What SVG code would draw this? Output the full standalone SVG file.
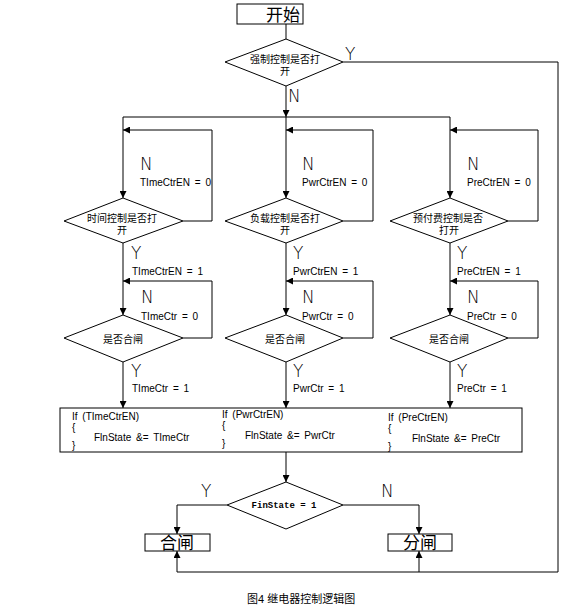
<svg xmlns="http://www.w3.org/2000/svg" width="565" height="608" viewBox="0 0 565 608">
<style>
.s{fill:none;stroke:#000;stroke-width:1}
.b{fill:#fff;stroke:#000;stroke-width:1}
.t{font-family:"Liberation Sans","Noto Sans",sans-serif;font-size:10px;fill:#000;word-spacing:2px}
.c{font-family:"Liberation Sans","Noto Sans CJK SC",sans-serif;font-size:10px;fill:#000;text-anchor:middle}
.yn{font-family:"DejaVu Sans ExtraLight","DejaVu Sans","Liberation Sans",sans-serif;font-size:17px;fill:#000;font-weight:200}
.big{font-family:"Noto Sans CJK SC",sans-serif;font-size:17px;fill:#000;text-anchor:middle}
</style>
<defs>
<marker id="a" viewBox="0 0 8 8" refX="8" refY="4" markerWidth="7" markerHeight="7" markerUnits="userSpaceOnUse" orient="auto">
<path d="M0,0 L8,4 L0,8 z" fill="#000"/>
</marker>
</defs>
<rect width="565" height="608" fill="#fff"/>
<g id="connectors">
<path class="s" d="M286,24 V39"/>
<path class="s" d="M343,62 H558 V572 H177"/>
<path class="s" d="M177,572 V551" marker-end="url(#a)"/>
<path class="s" d="M419,572 V551" marker-end="url(#a)"/>
<path class="s" d="M286,86 V117" marker-end="url(#a)"/>
<path class="s" d="M123,117 H450"/>
<path class="s" d="M123,117 V198" marker-end="url(#a)"/>
<path class="s" d="M286,117 V198" marker-end="url(#a)"/>
<path class="s" d="M450,117 V198" marker-end="url(#a)"/>
<path class="s" d="M183,221 H212 V130 H123" marker-end="url(#a)"/>
<path class="s" d="M343,221 H373 V130 H286" marker-end="url(#a)"/>
<path class="s" d="M508,221 H538 V130 H450" marker-end="url(#a)"/>
<path class="s" d="M123,243 V315" marker-end="url(#a)"/>
<path class="s" d="M286,243 V315" marker-end="url(#a)"/>
<path class="s" d="M450,243 V315" marker-end="url(#a)"/>
<path class="s" d="M183,338 H212 V281 H123" marker-end="url(#a)"/>
<path class="s" d="M343,338 H373 V281 H286" marker-end="url(#a)"/>
<path class="s" d="M508,338 H538 V281 H450" marker-end="url(#a)"/>
<path class="s" d="M123,362 V408" marker-end="url(#a)"/>
<path class="s" d="M286,362 V408" marker-end="url(#a)"/>
<path class="s" d="M450,362 V408" marker-end="url(#a)"/>
<path class="s" d="M286,452 V482" marker-end="url(#a)"/>
<path class="s" d="M227,505 H177 V534" marker-end="url(#a)"/>
<path class="s" d="M343,505 H419 V534" marker-end="url(#a)"/>
</g>
<g id="start">
<rect class="b" x="237" y="4" width="66" height="20"/>
<text class="big" x="283" y="21" font-size="18">开始</text>
</g>
<g id="d-force">
<polygon class="b" points="286,39 343,62 286,86 225,62"/>
<text class="c" x="285" y="63">强制控制是否打</text>
<text class="c" x="285" y="75">开</text>
<text class="yn" x="345" y="60">Y</text>
<text class="yn" x="288" y="102">N</text>
</g>
<g id="d-time">
<polygon class="b" points="123,198 183,221 123,243 64,221"/>
<text class="c" x="122" y="222">时间控制是否打</text>
<text class="c" x="122" y="234">开</text>
<text class="yn" x="140" y="170">N</text>
<text class="t" x="140" y="186">TImeCtrEN = 0</text>
<text class="yn" x="131" y="259">Y</text>
<text class="t" x="132" y="275">TImeCtrEN = 1</text>
</g>
<g id="d-load">
<polygon class="b" points="286,198 343,221 286,243 225,221"/>
<text class="c" x="285" y="222">负载控制是否打</text>
<text class="c" x="285" y="234">开</text>
<text class="yn" x="302" y="170">N</text>
<text class="t" x="302" y="186">PwrCtrEN = 0</text>
<text class="yn" x="293" y="259">Y</text>
<text class="t" x="293" y="275">PwrCtrEN = 1</text>
</g>
<g id="d-pre">
<polygon class="b" points="450,198 508,221 450,243 390,221"/>
<text class="c" x="448" y="222">预付费控制是否</text>
<text class="c" x="449" y="234">打开</text>
<text class="yn" x="467" y="170">N</text>
<text class="t" x="467" y="186">PreCtrEN = 0</text>
<text class="yn" x="457" y="259">Y</text>
<text class="t" x="457" y="275">PreCtrEN = 1</text>
</g>
<g id="d-time2">
<polygon class="b" points="123,315 183,338 123,362 64,338"/>
<text class="c" x="123" y="343">是否合闸</text>
<text class="yn" x="141" y="303">N</text>
<text class="t" x="141" y="320">TImeCtr = 0</text>
<text class="yn" x="131" y="377">Y</text>
<text class="t" x="132" y="392">TImeCtr = 1</text>
</g>
<g id="d-load2">
<polygon class="b" points="286,315 343,338 286,362 225,338"/>
<text class="c" x="285" y="343">是否合闸</text>
<text class="yn" x="302" y="303">N</text>
<text class="t" x="302" y="320">PwrCtr = 0</text>
<text class="yn" x="293" y="377">Y</text>
<text class="t" x="293" y="392">PwrCtr = 1</text>
</g>
<g id="d-pre2">
<polygon class="b" points="450,315 508,338 450,362 390,338"/>
<text class="c" x="449" y="343">是否合闸</text>
<text class="yn" x="467" y="303">N</text>
<text class="t" x="467" y="320">PreCtr = 0</text>
<text class="yn" x="457" y="377">Y</text>
<text class="t" x="457" y="392">PreCtr = 1</text>
</g>
<g id="code">
<rect class="b" x="60" y="408" width="462" height="44"/>
<text class="t" x="72" y="420">If (TImeCtrEN)</text>
<text class="t" x="72" y="431">{</text>
<text class="t" x="94" y="441">FlnState &amp;= TImeCtr</text>
<text class="t" x="72" y="449">}</text>
<text class="t" x="222" y="418">If (PwrCtrEN)</text>
<text class="t" x="222" y="429">{</text>
<text class="t" x="245" y="439">FlnState &amp;= PwrCtr</text>
<text class="t" x="222" y="447">}</text>
<text class="t" x="388" y="421">If (PreCtrEN)</text>
<text class="t" x="388" y="432">{</text>
<text class="t" x="412" y="442">FlnState &amp;= PreCtr</text>
<text class="t" x="388" y="450">}</text>
</g>
<g id="d-final">
<polygon class="b" points="286,482 343,505 286,529 227,505"/>
<text x="284" y="508" font-family="Liberation Mono, monospace" font-size="9" font-weight="bold" text-anchor="middle">FinState = 1</text>
<text class="yn" x="201" y="497">Y</text>
<text class="yn" x="381" y="497">N</text>
</g>
<g id="close">
<rect class="b" x="145" y="534" width="65" height="17"/>
<text class="big" x="177" y="549">合闸</text>
</g>
<g id="open">
<rect class="b" x="388" y="534" width="64" height="17"/>
<text class="big" x="420" y="549">分闸</text>
</g>
<text x="247" y="603" font-family="Liberation Sans, Noto Sans CJK SC, sans-serif" font-size="11">图4 继电器控制逻辑图</text>
</svg>
